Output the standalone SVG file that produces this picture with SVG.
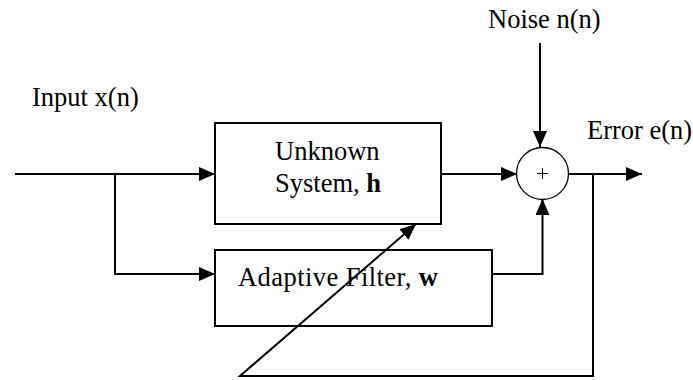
<svg xmlns="http://www.w3.org/2000/svg" width="693" height="380" viewBox="0 0 693 380">
<defs>
<marker id="ah" markerUnits="userSpaceOnUse" markerWidth="16" markerHeight="14" refX="16" refY="7" orient="auto">
<path d="M0,0 L16,7 L0,14 Z" fill="#000"/>
</marker>
<style>
.ln{fill:none;stroke:#000;stroke-width:2}
.box{fill:none;stroke:#000;stroke-width:2}
.t{font-family:"Liberation Serif","Times New Roman",serif;font-size:26.5px;fill:#000}
</style>
</defs>
<rect width="693" height="380" fill="#fff"/>
<g id="unknown">
<rect class="box" x="215" y="123" width="226" height="101"/>
<text class="t" x="275" y="160">Unknown</text>
<text class="t" x="275" y="192">System, <tspan font-weight="bold">h</tspan></text>
</g>
<g id="adaptive">
<rect class="box" x="215" y="250" width="277" height="76"/>
<text class="t" x="238" y="286" textLength="200">Adaptive Filter, <tspan font-weight="bold">w</tspan></text>
</g>
<g id="sum">
<circle cx="542.5" cy="173.5" r="26" fill="#fff" stroke="#000" stroke-width="1.3"/>
<path d="M537,173.5 H548 M542.5,168 V179" stroke="#000" stroke-width="1"/>
</g>
<g id="connectors">
<path class="ln" d="M15,174 H215" marker-end="url(#ah)"/>
<path class="ln" d="M115,174 V274 H215" marker-end="url(#ah)"/>
<path class="ln" d="M441,174 H517" marker-end="url(#ah)"/>
<path class="ln" d="M540,43 V147" marker-end="url(#ah)"/>
<path class="ln" d="M492,274 H542.5 V199" marker-end="url(#ah)"/>
<path class="ln" d="M568,174 H642" marker-end="url(#ah)"/>
<path class="ln" d="M593,174 V376 H240 L416,224" marker-end="url(#ah)"/>
</g>
<g id="labels">
<text class="t" x="32" y="106">Input x(n)</text>
<text class="t" x="488" y="28">Noise n(n)</text>
<text class="t" x="587" y="139">Error e(n)</text>
</g>
</svg>
